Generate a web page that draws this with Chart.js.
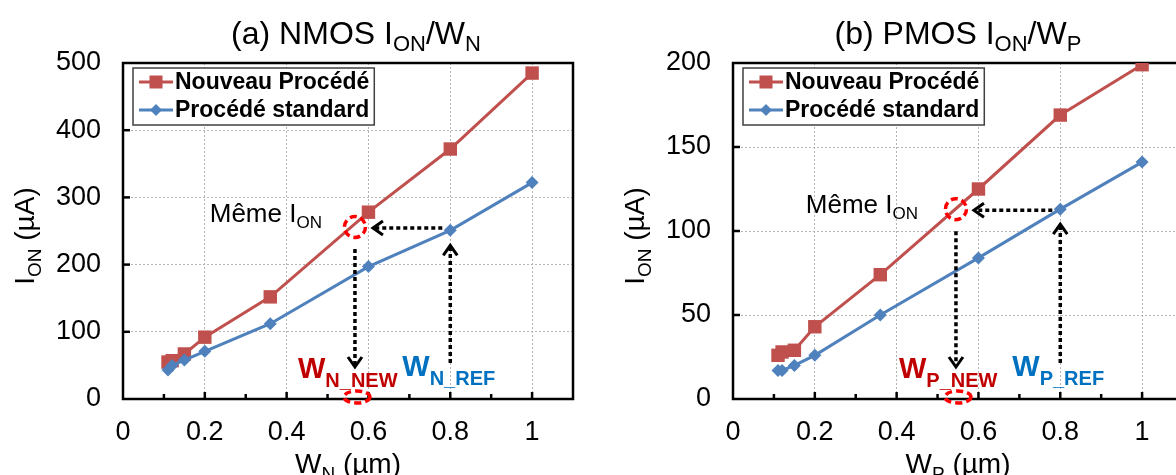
<!DOCTYPE html>
<html>
<head>
<meta charset="utf-8">
<script src="https://cdn.jsdelivr.net/npm/chart.js@4.4.1/dist/chart.umd.min.js"></script>
<style>
html, body { margin:0; padding:0; background:#fff; width:1176px; height:475px; overflow:hidden; position:relative; }
canvas { position:absolute; top:0; }
#cN { left:0; }
#cP { left:610px; }
</style>
</head>
<body>
<canvas id="cN" width="590" height="475"></canvas>
<canvas id="cP" width="590" height="475"></canvas>
<script>
// data
var seriesNames = ['Nouveau Procédé', 'Procédé standard'];
var widthsN = [0.11, 0.12, 0.15, 0.2, 0.36, 0.6, 0.8, 1.0];
var nmosNew = [55, 57, 67, 92, 152, 278, 372, 485];
var nmosStd = [43, 50, 58, 71, 112, 197, 251, 322];
var widthsP = [0.11, 0.12, 0.15, 0.2, 0.36, 0.6, 0.8, 1.0];
var pmosNew = [26, 28, 29, 43, 74, 125, 169, 199];
var pmosStd = [17, 17, 20, 26, 50, 84, 113, 141];
var xMax = 1.1, xStep = 0.1;
var nmosYMax = 500, nmosYStep = 100;
var pmosYMax = 200, pmosYStep = 50;
// "same I_ON" point and reference point (x in um, y in uA)
var nmosSame = [0.567, 256], nmosRef = [0.8, 251];
var pmosSame = [0.545, 113], pmosRef = [0.8, 113];

var FONT = '"Liberation Sans", Arial, sans-serif';
var RED = '#C0504D', BLUE = '#4F81BD';

function pts(xs, ys) {
	return xs.map(function(x, i) { return {x:x, y:ys[i]}; });
}

function drawRich(ctx, parts, x, y, o) {
	var main = o.weight + ' ' + o.size + 'px ' + FONT;
	var sub = o.weight + ' ' + o.sub + 'px ' + FONT;
	var ws = [], total = 0;
	parts.forEach(function(p) {
		ctx.font = p[1] ? sub : main;
		var w = ctx.measureText(p[0]).width;
		ws.push(w); total += w;
	});
	var cx = o.align == 'center' ? x - total / 2 : x;
	ctx.fillStyle = o.color || '#000';
	ctx.textAlign = 'left';
	ctx.textBaseline = 'alphabetic';
	parts.forEach(function(p, i) {
		ctx.font = p[1] ? sub : main;
		ctx.fillText(p[0], cx, y + (p[1] ? o.dy : 0));
		cx += ws[i];
	});
}

function dotted(ctx, x1, y1, x2, y2) {
	ctx.save();
	ctx.strokeStyle = '#000';
	ctx.lineWidth = 3.5;
	ctx.setLineDash([4, 3]);
	ctx.beginPath(); ctx.moveTo(x1, y1); ctx.lineTo(x2, y2); ctx.stroke();
	ctx.restore();
}

function chevron(ctx, x, y, dir) {
	// dir: 'left', 'up', 'down'
	var b = 10, s = 7;
	ctx.save();
	ctx.strokeStyle = '#000';
	ctx.lineWidth = 3;
	ctx.lineJoin = 'miter';
	ctx.beginPath();
	if (dir == 'left') { ctx.moveTo(x + b, y - s); ctx.lineTo(x, y); ctx.lineTo(x + b, y + s); }
	if (dir == 'up') { ctx.moveTo(x - s, y + b); ctx.lineTo(x, y); ctx.lineTo(x + s, y + b); }
	if (dir == 'down') { ctx.moveTo(x - s, y - b); ctx.lineTo(x, y); ctx.lineTo(x + s, y - b); }
	ctx.stroke();
	ctx.restore();
}

function ellipse(ctx, x, y, rx, ry) {
	ctx.save();
	ctx.strokeStyle = '#FF0000';
	ctx.lineWidth = 3.5;
	ctx.setLineDash([7, 4]);
	ctx.beginPath(); ctx.ellipse(x, y, rx, ry, 0, 0, Math.PI * 2); ctx.stroke();
	ctx.restore();
}

function decor(spec) {
	return {
		id:'decor',
		beforeDatasetsDraw:function(chart) {
			var ctx = chart.ctx, ca = chart.chartArea;
			var xs = chart.scales.x, ys = chart.scales.y;
			ctx.save();
			ctx.strokeStyle = '#000';
			ctx.lineWidth = 2.5;
			xs.ticks.forEach(function(t) {
				if (t.value <= 0 || t.value >= xMax - 1e-6) return;
				var major = Math.round(t.value * 10) % 2 == 0;
				var px = xs.getPixelForValue(t.value);
				ctx.beginPath(); ctx.moveTo(px, ca.bottom); ctx.lineTo(px, ca.bottom - (major ? 7 : 5)); ctx.stroke();
			});
			ys.ticks.forEach(function(t) {
				if (t.value <= 0 || t.value >= ys.max) return;
				var py = ys.getPixelForValue(t.value);
				ctx.beginPath(); ctx.moveTo(ca.left, py); ctx.lineTo(ca.left + 7, py); ctx.stroke();
			});
			ctx.strokeRect(ca.left, ca.top, ca.right - ca.left, ca.bottom - ca.top);
			ctx.restore();
		},
		afterDatasetsDraw:function(chart) {
			var ctx = chart.ctx, ca = chart.chartArea;
			var xs = chart.scales.x, ys = chart.scales.y;
			var cx = xs.getPixelForValue(spec.same[0]), cy = ys.getPixelForValue(spec.same[1]);
			var rx = xs.getPixelForValue(spec.ref[0]), ry = ys.getPixelForValue(spec.ref[1]);

			// arrows
			dotted(ctx, rx - 8, cy + 1, cx + 19, cy + 1);
			chevron(ctx, cx + 18, cy + 1, 'left');
			dotted(ctx, rx, ca.bottom - 36, rx, ry + 16);
			chevron(ctx, rx, ry + 15, 'up');
			dotted(ctx, cx, cy + 22, cx, ca.bottom - 33);
			chevron(ctx, cx, ca.bottom - 32, 'down');

			ellipse(ctx, cx, cy, 10.5, 10.5);
			ellipse(ctx, cx + 2, ca.bottom - 2, 13, 6);

			// text labels
			drawRich(ctx, [['Même I', 0], ['ON', 1]], xs.getPixelForValue(spec.label[0]), ys.getPixelForValue(spec.label[1]),
				{size:26, sub:17, dy:6, weight:'normal'});
			drawRich(ctx, [['W', 0], [spec.dev + '_NEW', 1]], cx - 57, ca.bottom - 21,
				{size:29, sub:20, dy:9, weight:'bold', color:'#C00000'});
			drawRich(ctx, [['W', 0], [spec.dev + '_REF', 1]], rx - 48, ca.bottom - 23,
				{size:29, sub:20, dy:9, weight:'bold', color:'#0070C0'});

			// legend
			var lx = ca.left + 10, ly = ca.top + 5;
			ctx.font = 'bold 23px ' + FONT;
			var tw = Math.max(ctx.measureText(seriesNames[0]).width, ctx.measureText(seriesNames[1]).width);
			ctx.fillStyle = '#fff';
			ctx.fillRect(lx, ly, 42 + tw + 5, 57);
			ctx.strokeStyle = '#404040';
			ctx.lineWidth = 1.5;
			ctx.strokeRect(lx, ly, 42 + tw + 5, 57);
			[[RED, 14], [BLUE, 42]].forEach(function(r, i) {
				var yy = ly + r[1];
				ctx.strokeStyle = r[0]; ctx.lineWidth = 3;
				ctx.beginPath(); ctx.moveTo(lx + 6, yy); ctx.lineTo(lx + 40, yy); ctx.stroke();
				ctx.fillStyle = r[0];
				var mx = lx + 23;
				if (i == 0) ctx.fillRect(mx - 6.5, yy - 6.5, 13, 13);
				else { ctx.beginPath(); ctx.moveTo(mx - 6, yy); ctx.lineTo(mx, yy - 6); ctx.lineTo(mx + 6, yy); ctx.lineTo(mx, yy + 6); ctx.closePath(); ctx.fill(); }
				ctx.fillStyle = '#000';
				ctx.font = 'bold 23px ' + FONT;
				ctx.textAlign = 'left'; ctx.textBaseline = 'middle';
				ctx.fillText(seriesNames[i], lx + 42, yy + 1);
			});
		},
		afterDraw:function(chart) {
			var ctx = chart.ctx, ca = chart.chartArea;
			var mid = (ca.left + ca.right) / 2;
			drawRich(ctx, spec.title, mid + spec.titleDx, 44, {size:32, sub:22, dy:7, weight:'normal', align:'center'});
			drawRich(ctx, [['W', 0], [spec.dev, 1], [' (µm)', 0]], mid, 473, {size:28, sub:19, dy:7, weight:'normal', align:'center'});
			ctx.save();
			ctx.translate(34, (ca.top + ca.bottom) / 2 + 5);
			ctx.rotate(-Math.PI / 2);
			drawRich(ctx, [['I', 0], ['ON', 1], [' (µA)', 0]], 0, 0, {size:28, sub:19, dy:7, weight:'normal', align:'center'});
			ctx.restore();
		}
	};
}

function makeChart(id, xsData, newVals, stdVals, yMax, yStep, spec) {
	var gridColor = function(c) {
		var v = c.tick ? c.tick.value : 0;
		if (v <= 0 || v >= xMax - 1e-6) return 'rgba(0,0,0,0)';
		return Math.round(v * 10) % 2 == 0 ? '#b4b4b4' : 'rgba(0,0,0,0)';
	};
	return new Chart(document.getElementById(id).getContext('2d'), {
		type:'line',
		data:{
			datasets:[
				{label:seriesNames[0], data:pts(xsData, newVals), borderColor:RED, backgroundColor:RED,
					borderWidth:3, pointStyle:'rect', pointRadius:9.5, pointBorderWidth:0, order:1},
				{label:seriesNames[1], data:pts(xsData, stdVals), borderColor:BLUE, backgroundColor:BLUE,
					borderWidth:3, pointStyle:'rectRot', pointRadius:6.5, pointBorderWidth:0, order:0}
			]
		},
		options:{
			responsive:false,
			animation:false,
			events:[],
			layout:{padding:{left:0, right:15, top:63, bottom:0}},
			plugins:{legend:{display:false}, title:{display:false}, tooltip:{enabled:false}},
			scales:{
				x:{
					type:'linear', min:0, max:xMax,
					ticks:{stepSize:xStep, color:'#000', padding:17, maxRotation:0, autoSkip:false,
						font:{family:FONT, size:27},
						callback:function(v) { return Math.round(v * 10) % 2 == 0 && v < 1.05 ? String(+v.toFixed(1)) : ''; }},
					grid:{color:gridColor, lineWidth:1, drawTicks:false},
					border:{display:false, dash:[2, 2]},
					afterFit:function(s) { s.height = 76; }
				},
				y:{
					min:0, max:yMax,
					ticks:{stepSize:yStep, color:'#000', padding:22, font:{family:FONT, size:27}},
					grid:{color:function(c) { var v = c.tick ? c.tick.value : 0; return (v <= 0 || v >= yMax) ? 'rgba(0,0,0,0)' : '#b4b4b4'; },
						lineWidth:1, drawTicks:false},
					border:{display:false, dash:[2, 2]},
					afterFit:function(s) { s.width = 123; }
				}
			}
		},
		plugins:[decor(spec)]
	});
}

makeChart('cN', widthsN, nmosNew, nmosStd, nmosYMax, nmosYStep, {
	dev:'N', same:nmosSame, ref:nmosRef, label:[0.212, 263], titleDx:8,
	title:[['(a) NMOS I', 0], ['ON', 1], ['/W', 0], ['N', 1]]
});
makeChart('cP', widthsP, pmosNew, pmosStd, pmosYMax, pmosYStep, {
	dev:'P', same:pmosSame, ref:pmosRef, label:[0.178, 111], titleDx:0,
	title:[['(b) PMOS I', 0], ['ON', 1], ['/W', 0], ['P', 1]]
});
</script>
</body>
</html>
